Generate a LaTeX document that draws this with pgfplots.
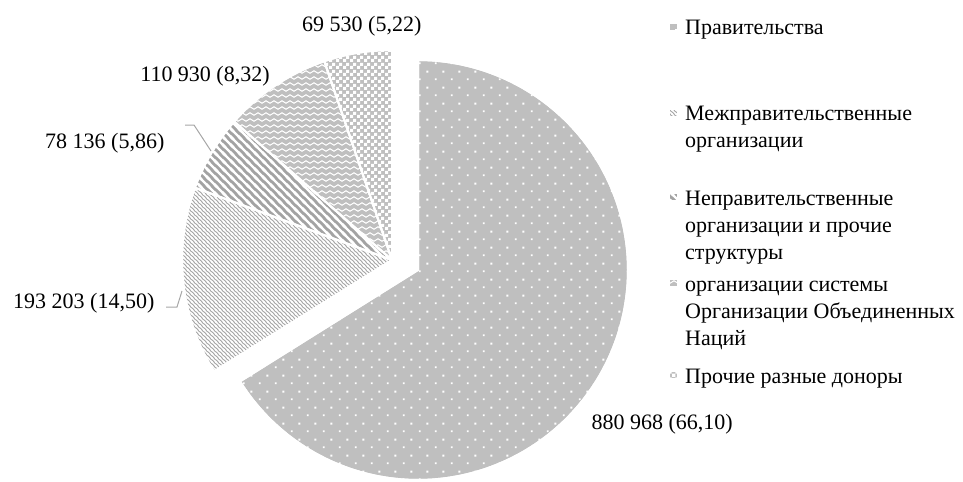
\documentclass[border=0pt]{standalone}
\usepackage{fontspec}
\setmainfont{Liberation Serif}
\usepackage{pgfplots}
\pgfplotsset{compat=1.18}
\usetikzlibrary{patterns.meta}

\definecolor{cbase}{RGB}{191,191,191}
\definecolor{cthin}{RGB}{168,168,168}
\definecolor{cthick}{RGB}{163,163,163}
\definecolor{lead}{RGB}{166,166,166}

\tikzdeclarepattern{
  name=pdots, type=uncolored,
  bottom left={(0bp,0bp)}, top right={(16bp,16bp)}, tile size={(16bp,16bp)},
  code={
    \fill (3bp,3bp) rectangle (5bp,5bp);
    \fill (11bp,11bp) rectangle (13bp,13bp);
  }
}
\tikzdeclarepattern{
  name=pthin, type=uncolored,
  bottom left={(-1bp,-1bp)}, top right={(5bp,5bp)}, tile size={(4bp,4bp)},
  code={
    \draw[line width=1.3bp] (-1bp,5bp) -- (5bp,-1bp);
    \draw[line width=1.3bp] (-1bp,1bp) -- (1bp,-1bp);
    \draw[line width=1.3bp] (3bp,5bp) -- (5bp,3bp);
  }
}
\tikzdeclarepattern{
  name=pthick, type=uncolored,
  bottom left={(-2bp,-2bp)}, top right={(10bp,10bp)}, tile size={(8bp,8bp)},
  code={
    \draw[line width=2.2bp] (-2bp,10bp) -- (10bp,-2bp);
    \draw[line width=2.2bp] (-2bp,2bp) -- (2bp,-2bp);
    \draw[line width=2.2bp] (6bp,10bp) -- (10bp,6bp);
  }
}
\tikzdeclarepattern{
  name=pwave, type=uncolored,
  bottom left={(0bp,-1bp)}, top right={(8bp,5bp)}, tile size={(8bp,6bp)},
  code={
    \draw[line width=1.1bp] (0bp,2bp) .. controls (1.5bp,3.6bp) and (2.5bp,3.6bp) .. (4bp,2bp)
      .. controls (5.5bp,0.4bp) and (6.5bp,0.4bp) .. (8bp,2bp);
  }
}
\tikzdeclarepattern{
  name=pcheck, type=uncolored,
  bottom left={(0bp,0bp)}, top right={(7bp,7bp)}, tile size={(7bp,7bp)},
  code={
    \fill (0bp,0bp) rectangle (3.5bp,3.5bp);
    \fill (3.5bp,3.5bp) rectangle (7bp,7bp);
  }
}

\begin{document}
\begin{tikzpicture}
\useasboundingbox (0,0) rectangle (963bp,482bp);
% data (percent shares)
\def\pA{66.10}\def\pB{14.50}\def\pC{5.86}\def\pD{8.32}\def\pE{5.22}
\pgfmathsetmacro\tA{90}
\pgfmathsetmacro\tB{\tA-3.6*\pA}
\pgfmathsetmacro\tC{\tB-3.6*\pB}
\pgfmathsetmacro\tD{\tC-3.6*\pC}
\pgfmathsetmacro\tE{\tD-3.6*\pD}
\pgfmathsetmacro\tF{\tE-3.6*\pE}
\def\R{210}
\def\cx{392}\def\cy{260}
\def\bx{418}\def\by{270}
\begin{axis}[at={(0,0)}, anchor=south west, scale only axis,
  width=963bp, height=482bp, xmin=0, xmax=963, ymin=0, ymax=482,
  y dir=reverse, hide axis, clip=false]
% slice 1 (exploded)
\addplot[draw=white, line width=2bp, fill=cbase,
  postaction={pattern=pdots, pattern color=white},
  domain=\tB:\tA, samples=120]
  ({\bx+\R*cos(x)}, {\by-\R*sin(x)}) -- (axis cs:\bx,\by) -- cycle;
% slice 2
\addplot[draw=white, line width=2bp, fill=cthin,
  postaction={pattern=pthin, pattern color=white},
  domain=\tC:\tB, samples=40]
  ({\cx+\R*cos(x)}, {\cy-\R*sin(x)}) -- (axis cs:\cx,\cy) -- cycle;
% slice 3
\addplot[draw=white, line width=2bp, fill=cthick,
  postaction={pattern=pthick, pattern color=white},
  domain=\tD:\tC, samples=20]
  ({\cx+\R*cos(x)}, {\cy-\R*sin(x)}) -- (axis cs:\cx,\cy) -- cycle;
% slice 4
\addplot[draw=white, line width=2bp, fill=cbase,
  postaction={pattern=pwave, pattern color=white},
  domain=\tE:\tD, samples=25]
  ({\cx+\R*cos(x)}, {\cy-\R*sin(x)}) -- (axis cs:\cx,\cy) -- cycle;
% slice 5
\addplot[draw=white, line width=2bp, fill=cbase,
  postaction={pattern=pcheck, pattern color=white},
  domain=\tF:\tE, samples=20]
  ({\cx+\R*cos(x)}, {\cy-\R*sin(x)}) -- (axis cs:\cx,\cy) -- cycle;

% leader lines
\draw[lead, line width=1bp] (axis cs:185,125) -- (axis cs:194,125) -- (axis cs:211,151);
\draw[lead, line width=1bp] (axis cs:166,307) -- (axis cs:177,307) -- (axis cs:182,291);

% data labels
\begin{scope}[every node/.style={inner sep=0pt, font=\fontsize{22bp}{26bp}\selectfont}]
\node[anchor=base west] at (axis cs:302,32) {69 530 (5,22)};
\node[anchor=base] at (axis cs:205,82) {110 930 (8,32)};
\node[anchor=base west] at (axis cs:45,148) {78 136 (5,86)};
\node[anchor=base west] at (axis cs:13,308) {193 203 (14,50)};
\node[anchor=base east] at (axis cs:733,429) {880 968 (66,10)};

% legend
\node[anchor=base west] at (axis cs:685,35) {Правительства};
\node[anchor=base west] at (axis cs:685,121) {Межправительственные};
\node[anchor=base west] at (axis cs:685,147) {организации};
\node[anchor=base west] at (axis cs:685,205) {Неправительственные};
\node[anchor=base west] at (axis cs:685,232) {организации и прочие};
\node[anchor=base west] at (axis cs:685,259) {структуры};
\node[anchor=base west] at (axis cs:685,291) {организации системы};
\node[anchor=base west] at (axis cs:685,318) {Организации Объединенных};
\node[anchor=base west] at (axis cs:685,345) {Наций};
\node[anchor=base west] at (axis cs:685,383) {Прочие разные доноры};
\end{scope}
\fill[cbase, postaction={pattern=pdots, pattern color=white}] (axis cs:670,24) rectangle (axis cs:677,30);
\fill[cthin, postaction={pattern=pthin, pattern color=white}] (axis cs:670,110) rectangle (axis cs:677,116);
\fill[cthick, postaction={pattern=pthick, pattern color=white}] (axis cs:670,194) rectangle (axis cs:677,200);
\fill[cbase, postaction={pattern=pwave, pattern color=white}] (axis cs:670,280) rectangle (axis cs:677,286);
\fill[cbase, postaction={pattern=pcheck, pattern color=white}] (axis cs:670,372) rectangle (axis cs:677,378);
\end{axis}
\end{tikzpicture}
\end{document}
